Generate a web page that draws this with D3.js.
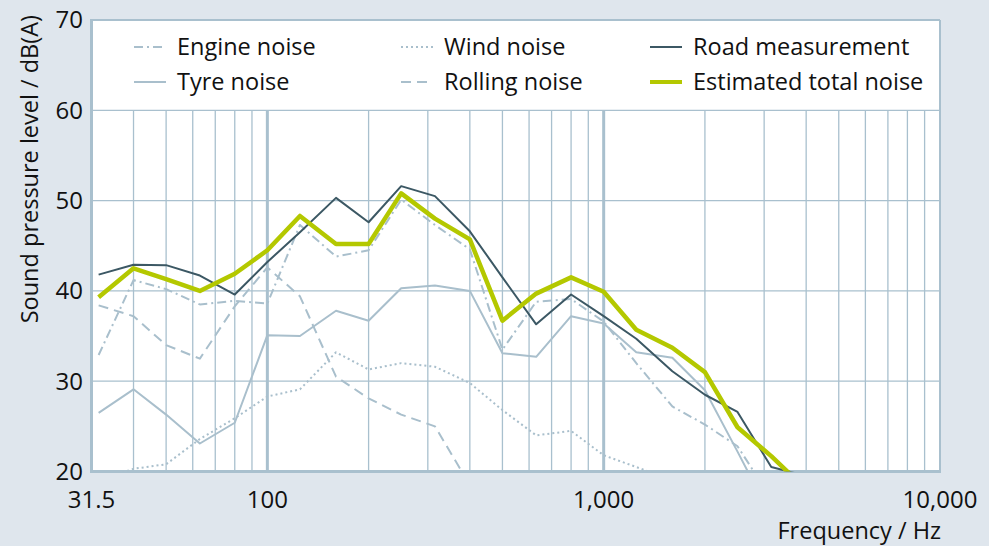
<!DOCTYPE html>
<html>
<head>
<meta charset="utf-8">
<script src="https://cdn.jsdelivr.net/npm/d3@7"></script>
<style>
  body { margin: 0; background: #dfe6ed; }
  text { font-family: "Open Sans", "Noto Sans", sans-serif; fill: #111; }
</style>
</head>
<body>
<script>
// third-octave band centres
var freqs = [31.5, 40, 50, 63, 80, 100, 125, 160, 200, 250, 315, 400, 500, 630, 800, 1000, 1250, 1600, 2000, 2500, 3150, 4000];

var engine  = [32.9, 41.2, 40.2, 38.5, 38.9, 38.6, 47.3, 43.8, 44.5, 50.1, 47.3, 44.6, 33.5, 38.8, 39.1, 36.6, 32.0, 27.2, 25.2, 22.8, 17.0, null];
var tyre    = [26.5, 29.1, 26.3, 23.1, 25.4, 35.1, 35.0, 37.8, 36.7, 40.3, 40.6, 40.0, 33.1, 32.7, 37.2, 36.4, 33.2, 32.6, 29.0, 22.2, 15.0, null];
var wind    = [19.0, 20.3, 20.8, 23.6, 25.9, 28.3, 29.1, 33.2, 31.3, 32.0, 31.6, 29.8, 26.8, 24.0, 24.5, 21.8, 20.5, 19.0, null, null, null, null];
var rolling = [38.4, 37.2, 34.0, 32.5, 38.3, 42.6, 39.4, 30.5, 28.1, 26.3, 25.0, 18.5, null, null, null, null, null, null, null, null, null, null];
var road    = [41.8, 42.9, 42.85, 41.7, 39.6, 43.2, 46.5, 50.3, 47.6, 51.6, 50.5, 46.6, 41.5, 36.3, 39.6, 37.2, 34.7, 31.1, 28.5, 26.6, 20.5, 19.5];
var total   = [39.3, 42.5, 41.3, 40.0, 41.9, 44.5, 48.3, 45.2, 45.2, 50.8, 48.0, 45.7, 36.7, 39.7, 41.5, 39.9, 35.7, 33.7, 31.0, 24.9, 21.7, 18.0];

var xTicks = [30, 100, 1000, 10000];
var xTickLabels = ['31.5', '100', '1,000', '10,000'];
var yTicks = [20, 30, 40, 50, 60, 70];

var grid = '#a9c0ce';
var light = '#a9bfcc';

var series = [
  {name: 'Engine noise', values: engine, color: light, width: 2, dash: '9,4,2,4'},
  {name: 'Tyre noise', values: tyre, color: light, width: 2, dash: null},
  {name: 'Wind noise', values: wind, color: light, width: 2, dash: '2,3'},
  {name: 'Rolling noise', values: rolling, color: light, width: 2, dash: '10,6'},
  {name: 'Road measurement', values: road, color: '#3c5864', width: 2, dash: null},
  {name: 'Estimated total noise', values: total, color: '#b4c800', width: 4.5, dash: null}
];

var svg = d3.select('body').append('svg').attr('width', 989).attr('height', 546);

var x = d3.scaleLog().domain([30, 10000]).range([91.5, 940]);
var y = d3.scaleLinear().domain([20, 70]).range([471.5, 20]);

// plot area
svg.append('rect').attr('x', x(30)).attr('y', y(70))
  .attr('width', x(10000) - x(30)).attr('height', y(20) - y(70))
  .attr('fill', 'white');

svg.append('clipPath').attr('id', 'plot').append('rect')
  .attr('x', x(30)).attr('y', y(70))
  .attr('width', x(10000) - x(30)).attr('height', y(20) - y(70));

// vertical grid (only below the legend box)
var vg = x.ticks().filter(function(d){ return d > 30 && d < 10000; });
svg.append('g').selectAll('line').data(vg).enter().append('line')
  .attr('x1', function(d){ return x(d); }).attr('x2', function(d){ return x(d); })
  .attr('y1', y(60)).attr('y2', y(20))
  .attr('stroke', grid)
  .attr('stroke-width', function(d){ return (d === 100 || d === 1000) ? 3 : 1.3; });

// horizontal grid
svg.append('g').selectAll('line').data([30, 40, 50, 60]).enter().append('line')
  .attr('x1', x(30)).attr('x2', x(10000))
  .attr('y1', function(d){ return y(d); }).attr('y2', function(d){ return y(d); })
  .attr('stroke', grid).attr('stroke-width', 1.3);

// frame
svg.append('line').attr('x1', x(30)).attr('x2', x(10000)).attr('y1', y(70)).attr('y2', y(70))
  .attr('stroke', grid).attr('stroke-width', 2);
svg.append('line').attr('x1', x(10000)).attr('x2', x(10000)).attr('y1', y(70)).attr('y2', y(20))
  .attr('stroke', grid).attr('stroke-width', 2);
svg.append('line').attr('x1', x(30)).attr('x2', x(30)).attr('y1', y(70) - 1).attr('y2', y(20) + 1.5)
  .attr('stroke', grid).attr('stroke-width', 3);
svg.append('line').attr('x1', x(30) - 1.5).attr('x2', x(10000) + 1).attr('y1', y(20)).attr('y2', y(20))
  .attr('stroke', grid).attr('stroke-width', 3);

// lines
var line = d3.line()
  .defined(function(d){ return d[1] !== null; })
  .x(function(d){ return x(d[0]); })
  .y(function(d){ return y(d[1]); });

var lines = svg.append('g').attr('clip-path', 'url(#plot)');
series.forEach(function(s){
  lines.append('path')
    .datum(freqs.map(function(f, i){ return [f, s.values[i]]; }))
    .attr('d', line)
    .attr('fill', 'none')
    .attr('stroke', s.color)
    .attr('stroke-width', s.width)
    .attr('stroke-linejoin', 'round')
    .attr('stroke-dasharray', s.dash);
});

// legend
var legX = [134, 401, 650];
var legY = [47, 82];
var leg = svg.append('g');
series.forEach(function(s, i){
  var col = Math.floor(i / 2), row = i % 2;
  var g = leg.append('g').attr('transform', 'translate(' + legX[col] + ',' + legY[row] + ')');
  g.append('line').attr('x1', 0).attr('x2', 32).attr('y1', 0).attr('y2', 0)
    .attr('stroke', s.color).attr('stroke-width', s.width === 2 ? 2 : 4)
    .attr('stroke-dasharray', s.dash);
  g.append('text').attr('x', 43).attr('y', 0).attr('dy', '0.35em')
    .style('font-size', '23.5px').text(s.name);
});

// axes labels
svg.append('g').selectAll('text').data(yTicks).enter().append('text')
  .attr('x', 83).attr('y', function(d){ return y(d); }).attr('dy', '0.35em')
  .attr('text-anchor', 'end').style('font-size', '24px').text(function(d){ return d; });

svg.append('g').selectAll('text').data(xTicks).enter().append('text')
  .attr('x', function(d){ return x(d); }).attr('y', 508)
  .attr('text-anchor', 'middle').style('font-size', '24px')
  .text(function(d, i){ return xTickLabels[i]; });

svg.append('text').attr('x', 941).attr('y', 539).attr('text-anchor', 'end')
  .style('font-size', '23.5px').text('Frequency / Hz');

svg.append('text').attr('transform', 'translate(38,15) rotate(-90)')
  .attr('text-anchor', 'end').style('font-size', '23.5px')
  .text('Sound pressure level / dB(A)');
</script>
</body>
</html>
